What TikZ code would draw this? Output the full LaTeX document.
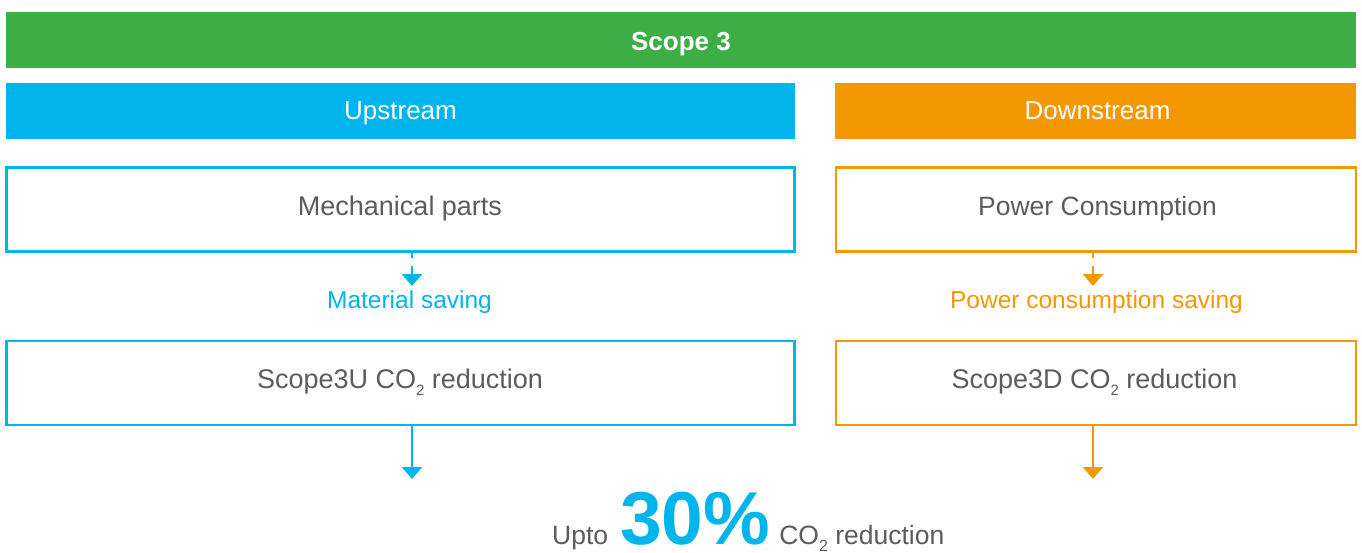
\documentclass[tikz,border=0pt]{standalone}
\usepackage{fontspec}
\setmainfont{Liberation Sans}
\usetikzlibrary{arrows.meta}
\definecolor{cgreen}{RGB}{61,174,69}
\definecolor{cblue}{RGB}{0,181,236}
\definecolor{corange}{RGB}{243,152,0}
\definecolor{cgray}{RGB}{92,92,92}
\newcommand{\subtwo}{\raisebox{-7pt}{\fontsize{15}{15}\selectfont 2}}
\tikzset{
  bar/.style={fill=#1, draw=none, minimum height=56pt, inner sep=0pt, outer sep=0pt},
  box/.style={draw=#1, line width=2.7pt, fill=white, minimum height=84pt, inner sep=0pt, outer sep=0pt},
  txt/.style={text=cgray, font=\fontsize{27}{30}\selectfont, anchor=base, inner sep=0pt},
  wtxt/.style={text=white, font=\fontsize{26}{30}\selectfont, anchor=base, inner sep=0pt},
  lbl/.style={text=#1, font=\fontsize{24.5}{28}\selectfont, anchor=base, inner sep=0pt},
  arr/.style={draw=#1, line width=2.8pt, -{Triangle[width=20pt,length=12pt]}},
  darr/.style={arr=#1, dash pattern=on 6pt off 8pt on 40pt},
}
\begin{document}
\begin{tikzpicture}[x=1pt,y=-1pt]
\useasboundingbox (0,0) rectangle (1362,552);
% bars
\node[bar=cgreen, minimum width=1350pt] (s3) at (681,40) {};
\node[bar=cblue, minimum width=789pt] (up) at (400.5,111) {};
\node[bar=corange, minimum width=521pt] (down) at (1095.5,111) {};
\node[wtxt, font=\fontsize{26}{30}\selectfont\bfseries] (s3t) at (681,50) {Scope 3};
\node[wtxt] (upt) at (400.5,119.5) {Upstream};
\node[wtxt] (downt) at (1097.5,119.5) {Downstream};
% boxes
\node[box=cblue, minimum width=788pt] (mp) at (400.5,209.5) {};
\node[box=corange, minimum width=520pt] (pc) at (1096,209.5) {};
\node[box=cblue, minimum width=788pt] (s3u) at (400.5,383) {};
\node[box=corange, minimum width=520pt] (s3d) at (1096,383) {};
\node[txt] (mpt) at (400,215.5) {Mechanical parts};
\node[txt, font=\fontsize{26.5}{30}\selectfont] (pct) at (1097.5,215.5) {Power Consumption};
\node[txt] (s3ut) at (400,388) {Scope3U CO\subtwo\ reduction};
\node[txt] (s3dt) at (1094.5,388) {Scope3D CO\subtwo\ reduction};
% labels
\node[lbl=cblue] (ms) at (409.5,308) {Material saving};
\node[lbl=corange] (pcs) at (1096.5,308) {Power consumption saving};
% arrows
\coordinate (a1) at (412,286);
\coordinate (a2) at (1093,286);
\coordinate (a3) at (412,479);
\coordinate (a4) at (1093,479);
\draw[darr=cblue] (mp.south -| a1) -- (a1);
\draw[darr=corange] (pc.south -| a2) -- (a2);
\draw[arr=cblue] (s3u.south -| a3) -- (a3);
\draw[arr=corange] (s3d.south -| a4) -- (a4);
% bottom
\node[anchor=base west, inner sep=0pt, text=cgray, font=\fontsize{26.5}{30}\selectfont] (res) at (552,544)
  {Upto\hspace{12pt}{\color{cblue}\fontsize{75}{80}\selectfont\bfseries 30\%}\hspace{9pt}CO\raisebox{-7pt}{\fontsize{16}{16}\selectfont 2}\ reduction};
\end{tikzpicture}
\end{document}
